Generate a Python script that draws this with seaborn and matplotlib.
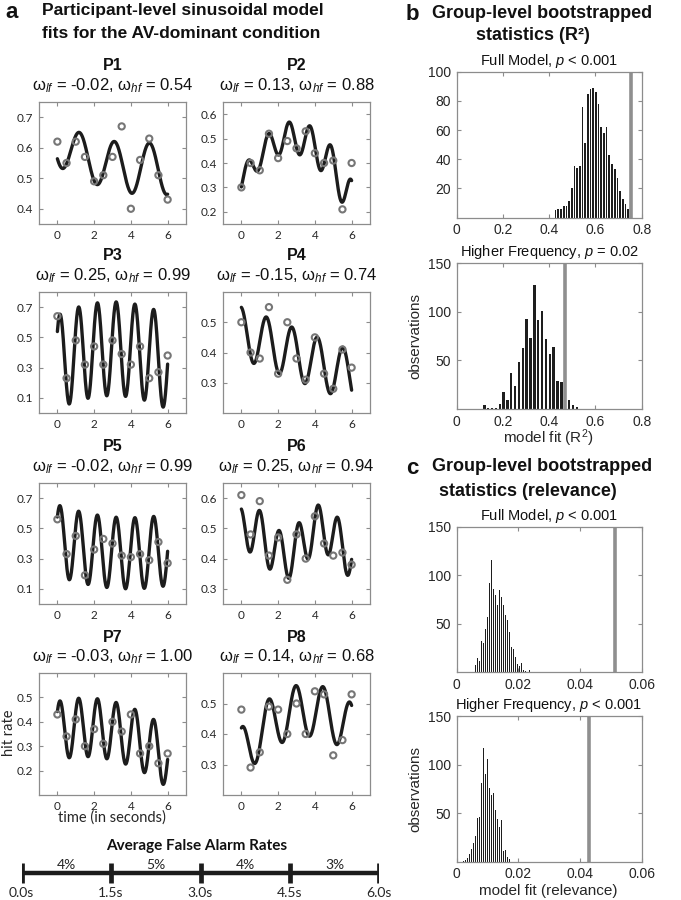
import numpy as np
import pandas as pd
import matplotlib
matplotlib.use('Agg')
import matplotlib.pyplot as plt
import seaborn as sns

W, H = 681, 900

# ---------------- panel a: participant hit rates ----------------
time_bins = [0, 0.5, 1, 1.5, 2, 2.5, 3, 3.5, 4, 4.5, 5, 5.5, 6]
participants = ['P1', 'P2', 'P3', 'P4', 'P5', 'P6', 'P7', 'P8']
w_lf = ['-0.02', '0.13', '0.25', '-0.15', '-0.02', '0.25', '-0.03', '0.14']
w_hf = ['0.54', '0.88', '0.99', '0.74', '0.99', '0.94', '1.00', '0.68']

hit_p1 = [0.62, 0.55, 0.62, 0.57, 0.49, 0.51, 0.57, 0.67, 0.40, 0.56, 0.63, 0.51, 0.43]
hit_p2 = [0.30, 0.40, 0.37, 0.52, 0.42, 0.49, 0.46, 0.53, 0.44, 0.40, 0.41, 0.21, 0.40]
hit_p3 = [0.64, 0.23, 0.48, 0.32, 0.44, 0.32, 0.48, 0.39, 0.32, 0.44, 0.23, 0.27, 0.38]
hit_p4 = [0.50, 0.40, 0.38, 0.55, 0.33, 0.50, 0.38, 0.31, 0.45, 0.33, 0.28, 0.41, 0.35]
hit_p5 = [0.56, 0.33, 0.45, 0.19, 0.36, 0.43, 0.40, 0.32, 0.31, 0.33, 0.29, 0.41, 0.27]
hit_p6 = [0.61, 0.48, 0.59, 0.41, 0.47, 0.33, 0.48, 0.40, 0.54, 0.45, 0.41, 0.42, 0.38]
hit_p7 = [0.43, 0.34, 0.41, 0.30, 0.37, 0.31, 0.40, 0.36, 0.43, 0.27, 0.30, 0.23, 0.27]
hit_p8 = [0.48, 0.29, 0.34, 0.49, 0.48, 0.40, 0.50, 0.40, 0.54, 0.53, 0.33, 0.38, 0.53]
hits = [hit_p1, hit_p2, hit_p3, hit_p4, hit_p5, hit_p6, hit_p7, hit_p8]

# sinusoidal model parameters
fit_base = [0.6115, 0.316, 0.335, 0.465, 0.421, 0.455, 0.363, 0.3354]
fit_slope = [-0.0332, 0.1375, 0.06, -0.024, -0.043, 0.0, 0.019, 0.0792]
fit_curve = [0.0034, -0.025, -0.01, 0.0, 0.0054, 0.0, -0.0063, -0.011]
hf_amp = [0.07, 0.045, 0.31, 0.085, 0.235, 0.078, 0.12, 0.085]
hf_amp_slope = [0.003, 0.007, 0.0, 0.0, 0.0, 0.0, 0.0, 0.0]
hf_freq = [0.526, 0.885, 0.98, 0.72, 0.98, 0.943, 0.98, 0.68]
hf_peak = [1.2, 2.6, 3.2, 2.75, 3.2, 4.18, 3.2, 2.97]
lf_amp = [0.0, 0.0, 0.0, 0.0, 0.0, 0.045, 0.0, 0.0]
lf_freq = [0.25, 0.25, 0.25, 0.25, 0.25, 0.256, 0.25, 0.25]
lf_peak = [0.0, 0.0, 0.0, 0.0, 0.0, 0.4, 0.0, 0.0]

y_limits = [(0.35, 0.75), (0.15, 0.65), (0.0, 0.8), (0.2, 0.6),
            (0.0, 0.8), (0.25, 0.65), (0.1, 0.6), (0.2, 0.6)]
y_ticks = [[0.4, 0.5, 0.6, 0.7], [0.2, 0.3, 0.4, 0.5, 0.6], [0.1, 0.3, 0.5, 0.7],
           [0.3, 0.4, 0.5], [0.1, 0.3, 0.5, 0.7], [0.3, 0.4, 0.5, 0.6],
           [0.2, 0.3, 0.4, 0.5], [0.3, 0.4, 0.5]]
x_ticks_a = [0, 2, 4, 6]

# false alarm timeline
fa_times = [0.0, 1.5, 3.0, 4.5, 6.0]
fa_rates = ['4%', '5%', '4%', '3%']

# ---------------- panels b / c: bootstrap histograms ----------------
b_full_counts = [5, 6, 6, 8, 8, 11, 20, 35, 34, 35, 76, 51, 85, 88, 89, 86, 78, 62,
                 58, 62, 43, 37, 33, 27, 18, 13, 9, 6]
b_full_range = (0.422, 0.747)
b_full_obs = 0.753

b_hf_counts = [4, 1, 1, 1, 5, 17, 9, 37, 24, 48, 63, 93, 73, 128, 92, 101, 72, 57,
               64, 29, 28, 20, 9, 4, 2]
b_hf_range = (0.1113, 0.5273)
b_hf_obs = 0.469

c_full_counts = [8, 15, 12, 32, 30, 45, 57, 92, 116, 86, 80, 69, 85, 78, 69, 59, 54,
                 42, 26, 24, 16, 9, 7, 10, 2, 1, 0, 2]
c_full_range = (0.005825, 0.024)
c_full_obs = 0.0513

c_hf_counts = [1, 2, 4, 8, 13, 19, 26, 45, 46, 81, 117, 90, 106, 76, 69, 71, 53, 44,
               36, 43, 11, 12, 5, 3]
c_hf_range = (0.00184, 0.01744)
c_hf_obs = 0.0429

sns.set_theme(style='ticks')
plt.rcParams['font.family'] = ['Liberation Sans', 'DejaVu Sans']
plt.rcParams['mathtext.fontset'] = 'custom'
plt.rcParams['mathtext.rm'] = 'Liberation Sans'
plt.rcParams['mathtext.it'] = 'Liberation Sans:italic'
plt.rcParams['mathtext.bf'] = 'Liberation Sans:bold'

SPINE = '#8c8c8c'
TXT = '#262626'

fig = plt.figure(figsize=(W / 100, H / 100), dpi=100)


def px_axes(x0, y0, x1, y1):
    return fig.add_axes([x0 / W, 1 - y1 / H, (x1 - x0) / W, (y1 - y0) / H])


def px_text(x, y, s, **kw):
    kw.setdefault('va', 'center')
    kw.setdefault('color', '#111111')
    fig.text(x / W, 1 - y / H, s, **kw)


def box_style(ax, size, family):
    for sp in ax.spines.values():
        sp.set_visible(True)
        sp.set_color(SPINE)
        sp.set_linewidth(0.9)
    ax.tick_params(direction='in', top=True, right=True, length=3, width=0.8,
                   color=SPINE, labelcolor=TXT, labelsize=size,
                   labelfontfamily=family, pad=4)


# ---- panel a ----
cols = [(39, 186), (223, 370)]
rows = [(102, 224), (292, 413), (483, 604), (673, 795)]
t_fine = np.linspace(0, 6, 600)

for i in range(8):
    r, c = divmod(i, 2)
    x0, x1 = cols[c]
    y0, y1 = rows[r]
    ax = px_axes(x0, y0, x1, y1)
    fit = (fit_base[i] + fit_slope[i] * t_fine + fit_curve[i] * t_fine ** 2
           + (hf_amp[i] + hf_amp_slope[i] * t_fine)
           * np.cos(2 * np.pi * hf_freq[i] * (t_fine - hf_peak[i]))
           + lf_amp[i] * np.cos(2 * np.pi * lf_freq[i] * (t_fine - lf_peak[i])))
    sns.lineplot(x=t_fine, y=fit, ax=ax, color='#1c1c1c', lw=2.4,
                 estimator=None, sort=False)
    ax.scatter(time_bins, hits[i], s=20, facecolors='none',
               edgecolors='#767676', linewidths=1.5, zorder=3)
    ax.set_xlim(-1, 7)
    ax.set_ylim(*y_limits[i])
    ax.set_xticks(x_ticks_a)
    ax.set_xticklabels([str(v) for v in x_ticks_a])
    ax.set_yticks(y_ticks[i])
    ax.set_yticklabels([f'{v:.1f}' for v in y_ticks[i]])
    ax.set_xlabel('')
    ax.set_ylabel('')
    box_style(ax, 8.5, 'Lato')
    xc = (x0 + x1) / 2
    px_text(xc, y0 - 36, participants[i], ha='center', fontsize=11.5,
            fontweight='bold')
    px_text(xc, y0 - 16,
            f'ω$_{{lf}}$ = {w_lf[i]}, ω$_{{hf}}$ = {w_hf[i]}',
            ha='center', fontsize=12)

px_text(9, 733, 'hit rate', ha='center', rotation=90, fontsize=10.5,
        family='Lato', color=TXT)
px_text(112, 818, 'time (in seconds)', ha='center', fontsize=10.5,
        family='Lato', color=TXT)

# false alarm timeline
ax_tl = px_axes(21.7, 835, 379.3, 900)
ax_tl.set_xlim(0, 6)
ax_tl.set_ylim(900, 835)
ax_tl.axis('off')
ax_tl.hlines(873, fa_times[0], fa_times[-1], color='#1c1c1c', lw=3.2)
ax_tl.vlines(fa_times, 863, 883, color='#1c1c1c', lw=3.4)
for k, lab in enumerate(fa_rates):
    ax_tl.text((fa_times[k] + fa_times[k + 1]) / 2, 865, lab, ha='center',
               va='center', fontsize=10, family='Lato', color=TXT)
for tv in fa_times:
    ax_tl.text(tv, 893, f'{tv:.1f}s', ha='center', va='center', fontsize=10,
               family='Lato', color=TXT)
px_text(197, 846, 'Average False Alarm Rates', ha='center', fontsize=11,
        fontweight='bold', family='Lato')

# headings
px_text(5, 12, 'a', fontsize=16, fontweight='bold')
px_text(42, 11, 'Participant-level sinusoidal model', fontsize=12.5,
        fontweight='bold')
px_text(42, 33, 'fits for the AV-dominant condition', fontsize=12.5,
        fontweight='bold')
px_text(406, 14, 'b', fontsize=16, fontweight='bold')
px_text(432, 13, 'Group-level bootstrapped', fontsize=13, fontweight='bold')
px_text(476, 36, 'statistics (R²)', fontsize=13, fontweight='bold')
px_text(406, 468, 'c', fontsize=16, fontweight='bold')
px_text(432, 467, 'Group-level bootstrapped', fontsize=13, fontweight='bold')
px_text(439, 492, 'statistics (relevance)', fontsize=13, fontweight='bold')


# ---- panels b / c ----
def hist_panel(y0, y1, counts, rng, observed, xmax, xticks, xlabels, ymax,
               yticks, title, shrink, xlabel=None, ylabel=False):
    ax = px_axes(456.7, y0, 641.7, y1)
    width = (rng[1] - rng[0]) / len(counts)
    centers = [rng[0] + width * (k + 0.5) for k in range(len(counts))]
    df = pd.DataFrame({'fit': centers, 'n': counts})
    sns.histplot(data=df, x='fit', weights='n', bins=len(counts),
                 binrange=rng, ax=ax, color='#1e1e1e', alpha=1,
                 shrink=shrink, linewidth=0)
    ax.axvline(observed, color='#8f8f8f', lw=2.6)
    ax.set_xlim(0, xmax)
    ax.set_ylim(0, ymax)
    ax.set_xticks(xticks)
    ax.set_xticklabels(xlabels)
    ax.set_yticks(yticks)
    ax.set_yticklabels([str(v) for v in yticks])
    ax.set_xlabel('')
    ax.set_ylabel('')
    box_style(ax, 10, 'Liberation Sans')
    px_text(549, y0 - 11, title, ha='center', fontsize=10.5)
    if xlabel:
        px_text(548, y1 + 29, xlabel, ha='center', fontsize=11, color=TXT)
    if ylabel:
        px_text(415, (y0 + y1) / 2, 'observations', ha='center', rotation=90,
                fontsize=11, color=TXT)
    return ax


r2_ticks = [0, 0.2, 0.4, 0.6, 0.8]
r2_labels = ['0', '0.2', '0.4', '0.6', '0.8']
rel_ticks = [0, 0.02, 0.04, 0.06]
rel_labels = ['0', '0.02', '0.04', '0.06']

hist_panel(71.7, 217.5, b_full_counts, b_full_range, b_full_obs, 0.8,
           r2_ticks, r2_labels, 100, [20, 40, 60, 80, 100],
           r'Full Model, $p$ < 0.001', 0.62)
hist_panel(263.3, 409, b_hf_counts, b_hf_range, b_hf_obs, 0.8,
           r2_ticks, r2_labels, 150, [50, 100, 150],
           r'Higher Frequency, $p$ = 0.02', 0.62, xlabel=r'model fit (R$^2$)',
           ylabel=True)
hist_panel(526.7, 672.3, c_full_counts, c_full_range, c_full_obs, 0.06,
           rel_ticks, rel_labels, 150, [50, 100, 150],
           r'Full Model, $p$ < 0.001', 0.5)
hist_panel(716, 861.7, c_hf_counts, c_hf_range, c_hf_obs, 0.06,
           rel_ticks, rel_labels, 150, [50, 100, 150],
           r'Higher Frequency, $p$ < 0.001', 0.5, xlabel='model fit (relevance)',
           ylabel=True)

fig.savefig('out.png', dpi=100, facecolor='white')
